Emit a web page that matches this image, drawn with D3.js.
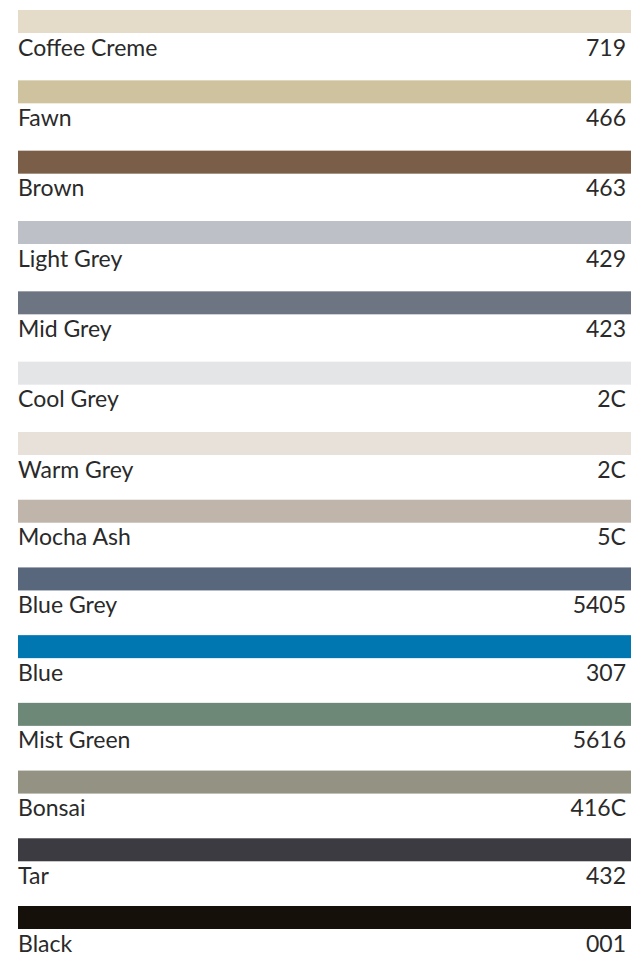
<!DOCTYPE html>
<html>
<head>
<meta charset="utf-8">
<script src="https://cdn.jsdelivr.net/npm/d3@7"></script>
<style>
  html, body { margin: 0; padding: 0; background: #ffffff; }
  svg { display: block; }
</style>
</head>
<body>
<svg id="chart" width="637" height="957"></svg>
<script>
const names = ["Coffee Creme", "Fawn", "Brown", "Light Grey", "Mid Grey", "Cool Grey", "Warm Grey",
  "Mocha Ash", "Blue Grey", "Blue", "Mist Green", "Bonsai", "Tar", "Black"];
const codes = ["719", "466", "463", "429", "423", "2C", "2C", "5C", "5405", "307", "5616", "416C", "432", "001"];
const swatches = ["#e4dcc8", "#cfc39f", "#7a5e48", "#bdc0c6", "#6e7582", "#e4e5e7", "#e8e1da",
  "#bfb5ab", "#58677c", "#0077b0", "#6e8877", "#949282", "#3b3b41", "#15110a"];

const rows = names.map((n, i) => ({ name: n, code: codes[i], color: swatches[i], idx: i }));

const left = 18, right = 631;
const svg = d3.select("#chart");

// row position scale (piecewise linear over row index; spacing tightens slightly down the page)
const y = d3.scaleLinear()
  .domain([0, 6, names.length - 1])
  .range([10, 432, 906]);

const x = d3.scaleLinear().domain([0, 1]).range([left, right]);

const barH = 23;
const g = svg.selectAll("g.row").data(rows).join("g")
  .attr("class", "row")
  .attr("transform", d => `translate(0,${y(d.idx)})`);

g.append("rect")
  .attr("x", x(0))
  .attr("y", 0)
  .attr("width", x(1) - x(0))
  .attr("height", barH)
  .attr("fill", d => d.color);

const font = "Lato, 'Open Sans', sans-serif";
g.append("text")
  .attr("x", x(0))
  .attr("y", 45.5)
  .attr("font-family", font)
  .attr("font-size", 23)
  .attr("fill", "#2a2a2a")
  .text(d => d.name);

g.append("text")
  .attr("x", right - 5)
  .attr("y", 45.5)
  .attr("text-anchor", "end")
  .attr("font-family", font)
  .attr("font-size", 23)
  .attr("fill", "#2a2a2a")
  .text(d => d.code);
</script>
</body>
</html>
